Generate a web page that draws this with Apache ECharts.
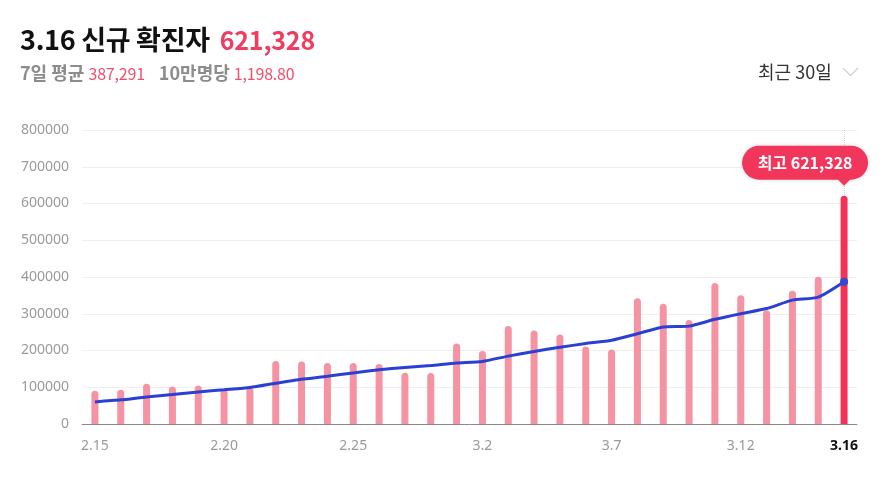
<!DOCTYPE html>
<html>
<head>
<meta charset="utf-8">
<script src="https://cdn.jsdelivr.net/npm/echarts@6/dist/echarts.min.js"></script>
<style>
  html, body { margin: 0; padding: 0; background: #fff; }
  body { width: 889px; height: 483px; position: relative; overflow: hidden;
         font-family: "Noto Sans CJK KR", "Noto Sans", sans-serif; }
  #chart { position: absolute; left: 0; top: 0; width: 889px; height: 483px; }
  .head { position: absolute; left: 20px; top: 19px; font-size: 27px; font-weight: bold; color: #111; white-space: nowrap; letter-spacing: -0.3px; }
  .head .num { color: #f03c5f; margin-left: 10px; font-size: 25px; letter-spacing: -0.2px; }
  .sub { position: absolute; left: 20px; top: 59px; font-size: 18px; color: #8c8c8c; font-weight: bold; white-space: nowrap; }
  .sub .v { color: #f0506e; font-weight: normal; font-size: 16px; margin-right: 14px; letter-spacing: -0.2px; }
  .range { position: absolute; left: 758px; top: 58px; font-size: 18px; color: #333; }
  .chev { position: absolute; left: 845px; top: 63px; width: 10px; height: 10px;
          border-right: 1.5px solid #c4c4c4; border-bottom: 1.5px solid #c4c4c4; transform: rotate(45deg); }
</style>
</head>
<body>
<div id="chart"></div>
<div class="head">3.16 신규 확진자<span class="num">621,328</span></div>
<div class="sub">7일 평균 <span class="v">387,291</span>10만명당 <span class="v">1,198.80</span></div>
<div class="range">최근 30일</div>
<div class="chev"></div>
<script>
var dates = ['2.15','2.16','2.17','2.18','2.19','2.20','2.21','2.22','2.23','2.24','2.25','2.26','2.27','2.28',
  '3.1','3.2','3.3','3.4','3.5','3.6','3.7','3.8','3.9','3.10','3.11','3.12','3.13','3.14','3.15','3.16'];
var dailyCases = [90443, 93135, 109831, 102211, 104829, 95362, 99573, 171452, 170016, 165890, 166209, 163566, 139626, 138993,
  219241, 198803, 266853, 254327, 243628, 210716, 202721, 342446, 327549, 282987, 383665, 350190, 309790, 362338, 400741, 621328];
var weekAvg = [60144, 65717, 73704, 80457, 87371, 93284, 99341, 110913, 121896, 129905, 139047, 147438, 153762, 159393,
  166220, 170333, 184756, 197344, 208782, 218937, 228041, 245642, 264034, 266339, 284816, 300039, 314193, 336995, 345323, 387291];
var yTicks = [0, 100000, 200000, 300000, 400000, 500000, 600000, 700000, 800000];

var last = dates.length - 1;
var chart = echarts.init(document.getElementById('chart'));

var barData = dailyCases.map(function (v, i) {
  return i === last ? { value: v, itemStyle: { color: '#f3325a' } } : v;
});

chart.setOption({
  animation: false,
  grid: { left: 82, right: 32, top: 130, bottom: 59 },
  xAxis: {
    type: 'category',
    data: dates,
    axisTick: { show: false },
    axisLine: { lineStyle: { color: '#8a8a8a' } },
    axisLabel: {
      color: '#9a9a9a',
      fontSize: 14,
      margin: 15,
      fontFamily: 'Noto Sans',
      interval: function (i) { return i % 5 === 0 || i === last; },
      formatter: function (v, i) { return i === last ? '{b|' + v + '}' : v; },
      rich: { b: { color: '#111', fontWeight: 'bold', fontSize: 14, fontFamily: 'Noto Sans' } }
    }
  },
  yAxis: {
    type: 'value',
    min: yTicks[0],
    max: yTicks[yTicks.length - 1],
    interval: yTicks[1] - yTicks[0],
    axisLine: { show: false },
    axisTick: { show: false },
    splitLine: { lineStyle: { color: '#efefef' } },
    axisLabel: {
      color: '#9a9a9a',
      fontSize: 14,
      margin: 13,
      fontFamily: 'Noto Sans',
      formatter: function (v) { return String(v); }
    }
  },
  series: [
    {
      type: 'bar',
      data: barData,
      barWidth: 7,
      itemStyle: { color: '#f593a3', borderRadius: [4, 4, 0, 0] },
      markLine: {
        silent: true,
        symbol: 'none',
        z: 4,
        label: { show: false },
        lineStyle: { color: '#cfcfcf', type: 'dotted', width: 1 },
        data: [[{ coord: [last, yTicks[yTicks.length - 1]] }, { coord: [last, dailyCases[last]] }]]
      },
      markPoint: {
        silent: true,
        z: 6,
        // pill with the pointer placed near its right end, so the box stays inside the chart
        symbol: 'path://M17,0 H109 A17,17 0 0 1 109,34 H108 L102,40 L96,34 H17 A17,17 0 0 1 17,0 Z',
        symbolSize: [126, 40],
        symbolOffset: [-39, -30],
        itemStyle: { color: '#f2355b', shadowBlur: 4, shadowColor: 'rgba(0,0,0,0.15)' },
        label: {
          show: true,
          position: 'inside',
          offset: [0, -3],
          color: '#fff',
          fontSize: 16,
          fontWeight: 'bold',
          fontFamily: 'Noto Sans CJK KR',
          formatter: '최고 621,328'
        },
        data: [{ coord: [last, dailyCases[last]] }]
      }
    },
    {
      type: 'line',
      data: weekAvg,
      smooth: 0.2,
      symbol: 'circle',
      symbolSize: function (v, p) { return p.dataIndex === last ? 8 : 0; },
      itemStyle: { color: '#3349d6' },
      lineStyle: { color: '#2a40d4', width: 3 },
      z: 3
    }
  ]
});
</script>
</body>
</html>
